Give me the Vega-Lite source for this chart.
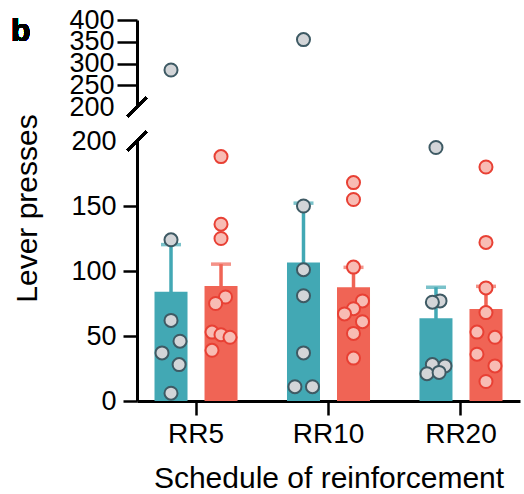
{
  "$schema": "https://vega.github.io/schema/vega-lite/v6.json",
  "padding": {"left": 11, "top": 6, "right": 2, "bottom": 0},
  "bounds": "flush",
  "spacing": 34,
  "config": {
    "font": "Liberation Sans",
    "view": {"stroke": null},
    "axis": {"grid": false, "labelOverlap": false, "domainColor": "black", "domainWidth": 3, "tickColor": "black", "tickWidth": 2.5, "labelColor": "black", "titleColor": "black", "labelFont": "Liberation Sans", "titleFont": "Liberation Sans", "titleFontWeight": "normal"}
  },
  "data": {"values": [
    {"schedule": "RR5", "group": "Group 1", "presses": 285, "jitter": 0},
    {"schedule": "RR5", "group": "Group 1", "presses": 124, "jitter": 0},
    {"schedule": "RR5", "group": "Group 1", "presses": 62, "jitter": 0},
    {"schedule": "RR5", "group": "Group 1", "presses": 46, "jitter": 1},
    {"schedule": "RR5", "group": "Group 1", "presses": 37, "jitter": -1},
    {"schedule": "RR5", "group": "Group 1", "presses": 28, "jitter": 0.9},
    {"schedule": "RR5", "group": "Group 1", "presses": 6, "jitter": 0},
    {"schedule": "RR5", "group": "Group 2", "presses": 188, "jitter": 0},
    {"schedule": "RR5", "group": "Group 2", "presses": 136, "jitter": 0},
    {"schedule": "RR5", "group": "Group 2", "presses": 125, "jitter": 0},
    {"schedule": "RR5", "group": "Group 2", "presses": 80, "jitter": 0.5},
    {"schedule": "RR5", "group": "Group 2", "presses": 75, "jitter": -0.6},
    {"schedule": "RR5", "group": "Group 2", "presses": 53, "jitter": -1},
    {"schedule": "RR5", "group": "Group 2", "presses": 51, "jitter": 0},
    {"schedule": "RR5", "group": "Group 2", "presses": 49, "jitter": 1},
    {"schedule": "RR5", "group": "Group 2", "presses": 39, "jitter": -1},
    {"schedule": "RR10", "group": "Group 1", "presses": 355, "jitter": 0},
    {"schedule": "RR10", "group": "Group 1", "presses": 150, "jitter": 0},
    {"schedule": "RR10", "group": "Group 1", "presses": 101, "jitter": 0},
    {"schedule": "RR10", "group": "Group 1", "presses": 81, "jitter": 0},
    {"schedule": "RR10", "group": "Group 1", "presses": 37, "jitter": 0},
    {"schedule": "RR10", "group": "Group 1", "presses": 11, "jitter": -0.95},
    {"schedule": "RR10", "group": "Group 1", "presses": 11, "jitter": 1},
    {"schedule": "RR10", "group": "Group 2", "presses": 168, "jitter": 0},
    {"schedule": "RR10", "group": "Group 2", "presses": 155, "jitter": 0},
    {"schedule": "RR10", "group": "Group 2", "presses": 103, "jitter": 0},
    {"schedule": "RR10", "group": "Group 2", "presses": 77, "jitter": 1},
    {"schedule": "RR10", "group": "Group 2", "presses": 71, "jitter": 0},
    {"schedule": "RR10", "group": "Group 2", "presses": 67, "jitter": -1},
    {"schedule": "RR10", "group": "Group 2", "presses": 61, "jitter": 1},
    {"schedule": "RR10", "group": "Group 2", "presses": 52, "jitter": 0},
    {"schedule": "RR10", "group": "Group 2", "presses": 33, "jitter": 0},
    {"schedule": "RR20", "group": "Group 1", "presses": 195, "jitter": 0},
    {"schedule": "RR20", "group": "Group 1", "presses": 77, "jitter": 0.45},
    {"schedule": "RR20", "group": "Group 1", "presses": 76, "jitter": -0.4},
    {"schedule": "RR20", "group": "Group 1", "presses": 28, "jitter": -0.4},
    {"schedule": "RR20", "group": "Group 1", "presses": 27, "jitter": 1},
    {"schedule": "RR20", "group": "Group 1", "presses": 21, "jitter": -1},
    {"schedule": "RR20", "group": "Group 1", "presses": 22, "jitter": 0.35},
    {"schedule": "RR20", "group": "Group 2", "presses": 180, "jitter": 0},
    {"schedule": "RR20", "group": "Group 2", "presses": 122, "jitter": 0},
    {"schedule": "RR20", "group": "Group 2", "presses": 87, "jitter": 0},
    {"schedule": "RR20", "group": "Group 2", "presses": 68, "jitter": 0},
    {"schedule": "RR20", "group": "Group 2", "presses": 53, "jitter": -1},
    {"schedule": "RR20", "group": "Group 2", "presses": 49, "jitter": 1},
    {"schedule": "RR20", "group": "Group 2", "presses": 36, "jitter": -1},
    {"schedule": "RR20", "group": "Group 2", "presses": 27, "jitter": 1},
    {"schedule": "RR20", "group": "Group 2", "presses": 15, "jitter": 0}
  ]},
  "vconcat": [
    {
      "width": 383,
      "height": 87,
      "layer": [
        {
          "encoding": {
            "x": {"field": "schedule", "type": "nominal", "sort": ["RR5", "RR10", "RR20"], "scale": {"domain": ["RR5", "RR10", "RR20"], "paddingInner": 0.245, "paddingOuter": 0.068}, "axis": null},
            "y": {"field": "presses", "type": "quantitative", "scale": {"domain": [200, 400], "nice": false, "zero": false},
              "axis": {"title": null, "values": [200, 250, 300, 350, 400], "tickSize": 20, "labelPadding": 3, "labelFontSize": 27, "labelOverlap": false, "labelBound": false, "labelFlush": false,
                "tickOpacity": {"condition": {"test": "datum.value === 200", "value": 0}, "value": 1}}}
          },
          "layer": [
            {
              "transform": [{"filter": "datum.group === 'Group 1' && datum.presses > 200"}],
              "mark": {"type": "circle", "fill": "#D3D5D8", "stroke": "#3E5A64", "strokeWidth": 2, "size": 170, "opacity": 1},
              "encoding": {"xOffset": {"field": "jitter", "type": "quantitative", "scale": {"domain": [-1, 1], "range": [16, 34]}}}
            },
            {
              "transform": [{"filter": "datum.group === 'Group 2' && datum.presses > 200"}],
              "mark": {"type": "circle", "fill": "#F8BCB4", "stroke": "#E84034", "strokeWidth": 2, "size": 170, "opacity": 1},
              "encoding": {"xOffset": {"field": "jitter", "type": "quantitative", "scale": {"domain": [-1, 1], "range": [66, 84]}}}
            }
          ],
          "resolve": {"scale": {"xOffset": "independent"}}
        },
        {
          "mark": {"type": "point", "shape": "M -1 1 L 1 -1", "size": 360, "color": "black", "stroke": "black", "strokeWidth": 2.5, "filled": false, "opacity": 1},
          "encoding": {
            "x": {"datum": 0, "type": "quantitative", "scale": {"domain": [0, 1]}, "axis": null},
            "y": {"datum": 200, "type": "quantitative",
              "axis": {"title": null, "values": [200, 250, 300, 350, 400], "tickSize": 20, "labelPadding": 3, "labelFontSize": 27, "labelOverlap": false, "labelBound": false, "labelFlush": false,
                "tickOpacity": {"condition": {"test": "datum.value === 200", "value": 0}, "value": 1}}}
          }
        },
        {
          "mark": {"type": "text", "text": "b", "font": "Liberation Sans", "fontSize": 32, "fontWeight": "bold", "color": "black", "align": "left", "baseline": "alphabetic", "dx": -126, "dy": 21},
          "encoding": {
            "x": {"datum": 0, "type": "quantitative", "scale": {"domain": [0, 1]}, "axis": null},
            "y": {"datum": 400, "type": "quantitative",
              "axis": {"title": null, "values": [200, 250, 300, 350, 400], "tickSize": 20, "labelPadding": 3, "labelFontSize": 27, "labelOverlap": false, "labelBound": false, "labelFlush": false,
                "tickOpacity": {"condition": {"test": "datum.value === 200", "value": 0}, "value": 1}}}
          }
        }
      ],
      "resolve": {"scale": {"x": "independent"}}
    },
    {
      "width": 383,
      "height": 260,
      "layer": [
        {
          "encoding": {
            "x": {"field": "schedule", "type": "nominal", "sort": ["RR5", "RR10", "RR20"], "scale": {"domain": ["RR5", "RR10", "RR20"], "paddingInner": 0.245, "paddingOuter": 0.068},
              "axis": {"title": "Schedule of reinforcement", "labelAngle": 0, "tickSize": 14, "labelPadding": 5, "labelFontSize": 28, "titleFontSize": 30, "titlePadding": 15}}
          },
          "layer": [
            {
              "mark": {"type": "errorbar", "extent": "stderr", "ticks": {"size": 20, "thickness": 3.5}, "rule": {"strokeWidth": 3.5}},
              "encoding": {
                "y": {"field": "presses", "type": "quantitative", "scale": {"domain": [0, 200], "nice": false},
                  "axis": {"title": "Lever presses", "values": [0, 50, 100, 150, 200], "tickSize": 14, "labelPadding": 7, "labelFontSize": 27, "titleFontSize": 30, "titleY": 67, "titlePadding": 28, "labelOverlap": false,
                    "tickOpacity": {"condition": {"test": "datum.value === 200", "value": 0}, "value": 1}}},
                "xOffset": {"field": "group", "type": "nominal", "scale": {"domain": ["Group 1", "Group 2"], "paddingInner": 0.34, "paddingOuter": 0.17}},
                "color": {"field": "group", "type": "nominal", "scale": {"domain": ["Group 1", "Group 2"], "range": ["#42A8B4", "#F06455"]}, "legend": null}
              }
            },
            {
              "mark": {"type": "bar"},
              "encoding": {
                "y": {"aggregate": "mean", "field": "presses", "type": "quantitative"},
                "xOffset": {"field": "group", "type": "nominal", "scale": {"domain": ["Group 1", "Group 2"], "paddingInner": 0.34, "paddingOuter": 0.17}},
                "color": {"field": "group", "type": "nominal", "scale": {"domain": ["Group 1", "Group 2"], "range": ["#42A8B4", "#F06455"]}, "legend": null}
              }
            },
            {
              "transform": [{"filter": "datum.group === 'Group 1' && datum.presses <= 200"}],
              "mark": {"type": "circle", "fill": "#D3D5D8", "stroke": "#3E5A64", "strokeWidth": 2, "size": 170, "opacity": 1},
              "encoding": {
                "y": {"field": "presses", "type": "quantitative"},
                "xOffset": {"field": "jitter", "type": "quantitative", "scale": {"domain": [-1, 1], "range": [16, 34]}}
              }
            },
            {
              "transform": [{"filter": "datum.group === 'Group 2' && datum.presses <= 200"}],
              "mark": {"type": "circle", "fill": "#F8BCB4", "stroke": "#E84034", "strokeWidth": 2, "size": 170, "opacity": 1},
              "encoding": {
                "y": {"field": "presses", "type": "quantitative"},
                "xOffset": {"field": "jitter", "type": "quantitative", "scale": {"domain": [-1, 1], "range": [66, 84]}}
              }
            }
          ],
          "resolve": {"scale": {"xOffset": "independent"}}
        },
        {
          "mark": {"type": "point", "shape": "M -1 1 L 1 -1", "size": 360, "color": "black", "stroke": "black", "strokeWidth": 2.5, "filled": false, "opacity": 1},
          "encoding": {
            "x": {"datum": 0, "type": "quantitative", "scale": {"domain": [0, 1]}, "axis": null},
            "y": {"datum": 200, "type": "quantitative",
              "axis": {"title": "Lever presses", "values": [0, 50, 100, 150, 200], "tickSize": 14, "labelPadding": 7, "labelFontSize": 27, "titleFontSize": 30, "titleY": 67, "titlePadding": 28, "labelOverlap": false,
                "tickOpacity": {"condition": {"test": "datum.value === 200", "value": 0}, "value": 1}}}
          }
        }
      ],
      "resolve": {"scale": {"x": "independent"}}
    }
  ]
}
